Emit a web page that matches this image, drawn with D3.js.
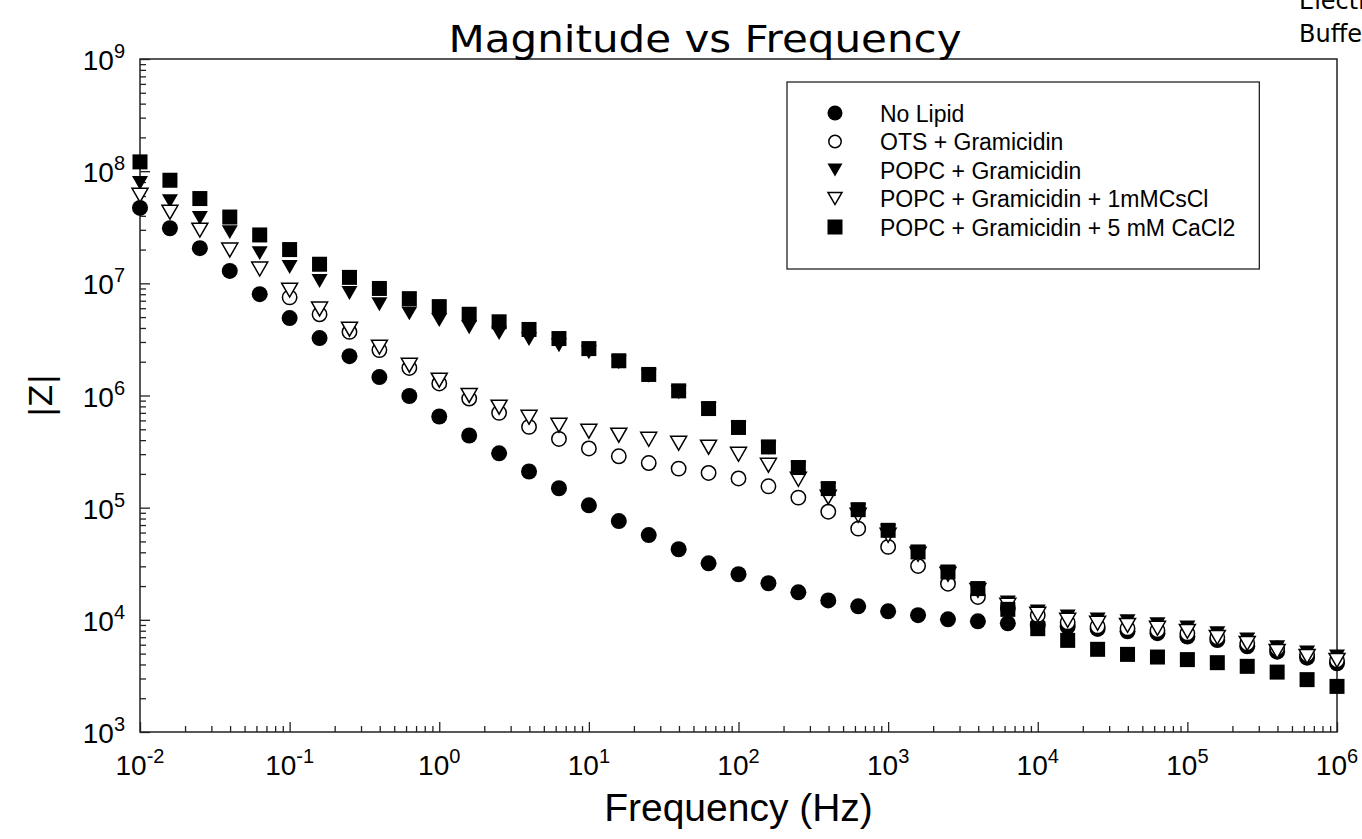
<!DOCTYPE html>
<meta charset="utf-8">
<body>
<script src="https://d3js.org/d3.v7.min.js"></script>
<style>
  body { margin: 0; background: #fff; }
  .axis path { display: none; }
  .axis line { stroke: #222; stroke-width: 1.3; }
  .tick-label { font-family: "Liberation Sans", Arial, sans-serif; font-size: 28px; fill: #000; }
</style>
<div id="chart"></div>
<script>
// frequency points (Hz), 5 per decade
var freq = [
  0.01, 0.01585, 0.02512, 0.03981, 0.0631,
  0.1, 0.1585, 0.2512, 0.3981, 0.631,
  1, 1.585, 2.512, 3.981, 6.31,
  10, 15.85, 25.12, 39.81, 63.1,
  100, 158.5, 251.2, 398.1, 631,
  1000, 1585, 2512, 3981, 6310,
  10000, 15850, 25120, 39810, 63100,
  100000, 158500, 251200, 398100, 631000,
  1000000
];

// |Z| for each series
var noLipid = [
  4.7e7, 3.1e7, 2.06e7, 1.29e7, 8.0e6,
  4.9e6, 3.25e6, 2.24e6, 1.46e6, 9.9e5,
  6.5e5, 4.4e5, 3.05e5, 2.1e5, 1.49e5,
  1.05e5, 7.6e4, 5.7e4, 4.26e4, 3.19e4,
  2.55e4, 2.12e4, 1.76e4, 1.49e4, 1.32e4,
  1.19e4, 1.1e4, 1.01e4, 9.7e3, 9.3e3,
  9.0e3, 8.7e3, 8.3e3, 7.9e3, 7.6e3,
  7.1e3, 6.6e3, 5.8e3, 5.2e3, 4.6e3,
  4.1e3
];
var otsGram = [
  null, null, null, null, null,
  7.5e6, 5.3e6, 3.69e6, 2.54e6, 1.76e6,
  1.28e6, 9.4e5, 7.0e5, 5.25e5, 4.1e5,
  3.37e5, 2.87e5, 2.5e5, 2.23e5, 2.04e5,
  1.82e5, 1.55e5, 1.23e5, 9.2e4, 6.5e4,
  4.47e4, 3.02e4, 2.1e4, 1.6e4, 1.27e4,
  1.1e4, 9.5e3, 8.75e3, 8.4e3, 8.07e3,
  7.58e3, 6.98e3, 6.17e3, 5.57e3, 4.92e3,
  4.35e3
];
var popcGram = [
  7.83e7, 5.41e7, 3.82e7, 2.86e7, 1.86e7,
  1.40e7, 1.05e7, 8.2e6, 6.5e6, 5.4e6,
  4.7e6, 4.06e6, 3.6e6, 3.18e6, 2.81e6,
  2.43e6, 1.98e6, 1.50e6, 1.07e6, 7.55e5,
  5.11e5, 3.42e5, 2.25e5, 1.46e5, 9.5e4,
  6.16e4, 4.0e4, 2.65e4, 1.87e4, 1.43e4,
  1.19e4, 1.07e4, 1.01e4, 9.7e3, 9.12e3,
  8.57e3, 7.58e3, 6.70e3, 5.69e3, 5.13e3,
  4.72e3
];
var popcCsCl = [
  6.1e7, 4.3e7, 2.98e7, 1.98e7, 1.34e7,
  8.7e6, 5.9e6, 3.9e6, 2.7e6, 1.86e6,
  1.37e6, 1.0e6, 7.87e5, 6.4e5, 5.43e5,
  4.8e5, 4.43e5, 4.07e5, 3.75e5, 3.46e5,
  2.99e5, 2.39e5, 1.79e5, 1.24e5, 8.55e4,
  5.67e4, 3.84e4, 2.55e4, 1.83e4, 1.35e4,
  1.12e4, 9.9e3, 9.31e3, 8.93e3, 8.40e3,
  7.89e3, 6.98e3, 6.17e3, 5.23e3, 4.72e3,
  4.35e3
];
var popcCaCl2 = [
  1.21e8, 8.3e7, 5.7e7, 3.9e7, 2.7e7,
  2.0e7, 1.48e7, 1.13e7, 9.0e6, 7.3e6,
  6.2e6, 5.3e6, 4.54e6, 3.88e6, 3.22e6,
  2.62e6, 2.04e6, 1.54e6, 1.10e6, 7.65e5,
  5.19e5, 3.48e5, 2.28e5, 1.48e5, 9.6e4,
  6.28e4, 4.03e4, 2.67e4, 1.90e4, 1.24e4,
  8.34e3, 6.56e3, 5.46e3, 4.92e3, 4.66e3,
  4.42e3, 4.15e3, 3.85e3, 3.42e3, 2.93e3,
  2.55e3
];

var seriesNames = [
  "No Lipid",
  "OTS  + Gramicidin",
  "POPC + Gramicidin",
  "POPC + Gramicidin + 1mMCsCl",
  "POPC + Gramicidin + 5 mM CaCl2"
];
var seriesSymbols = ["dot", "ring", "trifill", "triopen", "square"];

// axis tick labels
var xMajor = [1e-2, 1e-1, 1e0, 1e1, 1e2, 1e3, 1e4, 1e5, 1e6];
var xExp = ["-2", "-1", "0", "1", "2", "3", "4", "5", "6"];
var yMajor = [1e3, 1e4, 1e5, 1e6, 1e7, 1e8, 1e9];
var yExp = ["3", "4", "5", "6", "7", "8", "9"];

var margin = {top: 59, right: 25, bottom: 107, left: 140},
    width = 1362 - margin.left - margin.right,
    height = 839 - margin.top - margin.bottom;

var svg = d3.select("#chart").append("svg")
    .attr("width", 1362)
    .attr("height", 839);

var g = svg.append("g")
    .attr("transform", "translate(" + margin.left + "," + margin.top + ")");

var x = d3.scaleLog().domain([1e-2, 1e6]).range([0, width]);
var y = d3.scaleLog().domain([1e3, 1e9]).range([height, 0]);

// minor ticks 2..9 in each decade
function minors(lo, hi) {
  var out = [];
  for (var e = lo; e < hi; e++) {
    for (var m = 2; m <= 9; m++) out.push(m * Math.pow(10, e));
  }
  return out;
}

g.append("g").attr("class", "axis")
    .attr("transform", "translate(0," + height + ")")
    .call(d3.axisBottom(x).tickValues(minors(-2, 6)).tickSize(-6).tickFormat(""));
g.append("g").attr("class", "axis")
    .attr("transform", "translate(0," + height + ")")
    .call(d3.axisBottom(x).tickValues(xMajor).tickSize(-10).tickFormat(""));
g.append("g").attr("class", "axis")
    .call(d3.axisLeft(y).tickValues(minors(3, 9)).tickSize(-6).tickFormat(""));
g.append("g").attr("class", "axis")
    .call(d3.axisLeft(y).tickValues(yMajor).tickSize(-10).tickFormat(""));

// frame
g.append("rect")
    .attr("width", width).attr("height", height)
    .attr("fill", "none").attr("stroke", "#222").attr("stroke-width", 1.5);

// tick labels with superscripts
xMajor.forEach(function(v, i) {
  var t = g.append("text").attr("class", "tick-label")
      .attr("x", x(v)).attr("y", height + 43)
      .attr("text-anchor", "middle");
  t.append("tspan").text("10");
  t.append("tspan").attr("dy", -12).style("font-size", "20px").text(xExp[i]);
});
yMajor.forEach(function(v, i) {
  var t = g.append("text").attr("class", "tick-label")
      .attr("x", -15).attr("y", y(v) + 11)
      .attr("text-anchor", "end");
  t.append("tspan").text("10");
  t.append("tspan").attr("dy", -12).style("font-size", "20px").text(yExp[i]);
});

// marker shapes
function drawSymbol(sel, type, s) {
  var h = s / 2;
  if (type === "dot") {
    sel.append("circle").attr("r", h).attr("fill", "#000");
  } else if (type === "ring") {
    sel.append("circle").attr("r", h - 0.8).attr("fill", "#fff")
        .attr("stroke", "#000").attr("stroke-width", 1.5);
  } else if (type === "trifill" || type === "triopen") {
    var th = s * 0.87;
    var p = "M" + (-h) + "," + (-th / 2) + "L" + h + "," + (-th / 2) + "L0," + (th / 2) + "Z";
    if (type === "trifill") sel.append("path").attr("d", p).attr("fill", "#000");
    else sel.append("path").attr("d", p).attr("fill", "#fff")
        .attr("stroke", "#000").attr("stroke-width", 1.5);
  } else {
    sel.append("rect").attr("x", -h).attr("y", -h).attr("width", s).attr("height", s)
        .attr("fill", "#000");
  }
}

var allSeries = [noLipid, otsGram, popcGram, popcCsCl, popcCaCl2];
allSeries.forEach(function(vals, k) {
  var pts = freq.map(function(f, i) { return {f: f, z: vals[i]}; })
      .filter(function(d) { return d.z != null; });
  g.append("g").selectAll("g")
    .data(pts)
    .enter().append("g")
      .attr("transform", function(d) { return "translate(" + x(d.f) + "," + y(d.z) + ")"; })
      .each(function() { drawSymbol(d3.select(this), seriesSymbols[k], k === 4 ? 15 : 16); });
});

// legend
var legend = svg.append("g").attr("transform", "translate(787,82)");
var legendBox = legend.append("rect")
    .attr("height", 187)
    .attr("fill", "#fff").attr("stroke", "#222").attr("stroke-width", 1.3);
var maxW = 0;
seriesNames.forEach(function(name, k) {
  var row = legend.append("g").attr("transform", "translate(0," + (31 + k * 28.5) + ")");
  var m = row.append("g").attr("transform", "translate(48,0)");
  drawSymbol(m, seriesSymbols[k], k === 1 || k === 3 ? 14 : 15);
  var t = row.append("text")
      .attr("x", 93).attr("y", 8.5)
      .style("font-family", "Liberation Sans, Arial, sans-serif")
      .style("font-size", "23px")
      .text(name);
  maxW = Math.max(maxW, t.node().getComputedTextLength());
});
legendBox.attr("width", 93 + maxW + 24);

// titles
svg.append("text")
    .attr("x", 705).attr("y", 52)
    .attr("text-anchor", "middle")
    .attr("textLength", 513).attr("lengthAdjust", "spacingAndGlyphs")
    .style("font-family", "DejaVu Sans, sans-serif")
    .style("font-size", "38px")
    .text("Magnitude vs Frequency");

svg.append("text")
    .attr("x", margin.left + x(1e2)).attr("y", 821)
    .attr("text-anchor", "middle")
    .style("font-family", "Liberation Sans, Arial, sans-serif")
    .style("font-size", "39px")
    .text("Frequency (Hz)");

svg.append("text")
    .attr("transform", "translate(52," + (margin.top + y(1e6)) + ") rotate(-90)")
    .attr("text-anchor", "middle")
    .style("font-family", "DejaVu Sans, sans-serif")
    .style("font-size", "32px")
    .text("|Z|");

// clipped note at top right
var note = svg.append("text")
    .style("font-family", "DejaVu Sans, sans-serif")
    .style("font-size", "24px");
note.append("tspan").attr("x", 1299).attr("y", 9).text("Electrolyte");
note.append("tspan").attr("x", 1299).attr("y", 42).text("Buffer");
</script>
